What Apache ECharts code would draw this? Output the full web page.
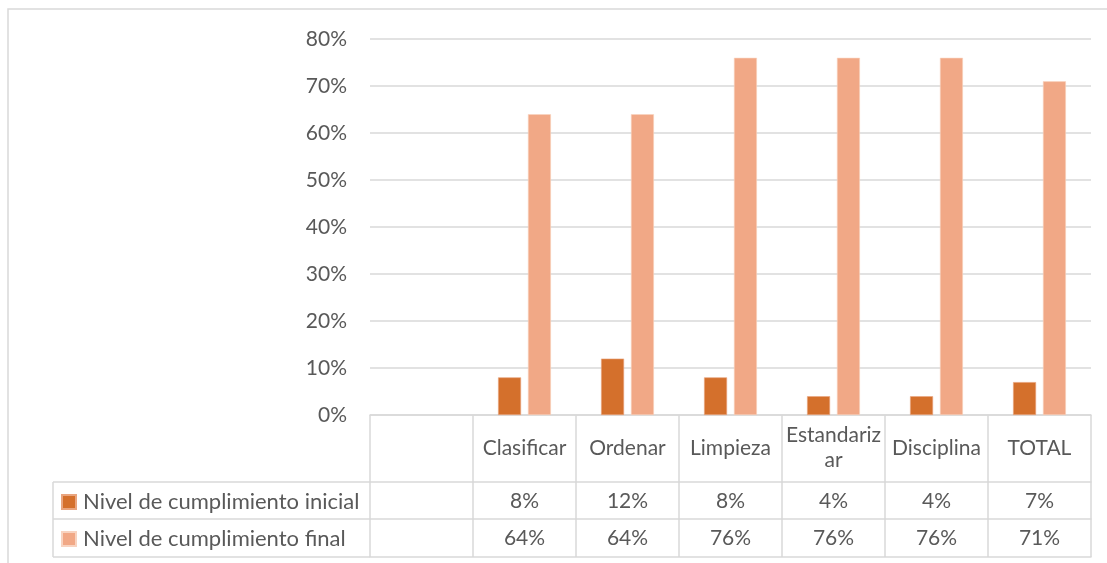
<!DOCTYPE html>
<html>
<head>
<meta charset="utf-8">
<script src="https://cdn.jsdelivr.net/npm/echarts@6/dist/echarts.min.js"></script>
<style>
html,body{margin:0;padding:0;background:#fff;}
#c{width:1107px;height:563px;}
</style>
</head>
<body>
<div id="c"></div>
<script>
var categories = ['', 'Clasificar', 'Ordenar', 'Limpieza', 'Estandarizar', 'Disciplina', 'TOTAL'];
var seriesNames = ['Nivel de cumplimiento inicial', 'Nivel de cumplimiento final'];
var inicial = [null, 8, 12, 8, 4, 4, 7];
var final_ = [null, 64, 64, 76, 76, 76, 71];
var yTicks = [0, 10, 20, 30, 40, 50, 60, 70, 80];

var FONT = 'Lato';
var TXT = '#595959';
var LINE = '#D9D9D9';
var FS = 21;

function pct(v){ return (v === null || v === undefined) ? '' : v + '%'; }

var chart = echarts.init(document.getElementById('c'), null, {renderer: 'canvas'});

function rowAxis(offset, values, showLabel){
  return {
    type: 'category', data: categories, position: 'bottom', offset: offset,
    gridIndex: 0,
    axisLine: {show: true, lineStyle: {color: LINE, width: 1.5}},
    axisTick: {show: false},
    axisLabel: {
      show: showLabel, interval: 0, margin: 19, verticalAlign: 'middle',
      color: TXT, fontFamily: FONT, fontSize: FS,
      formatter: function(val, idx){ return values ? pct(values[idx]) : ''; }
    },
    splitLine: {show: false}
  };
}

var option = {
  animation: false,
  textStyle: {fontFamily: FONT},
  grid: {left: 370, right: 16, top: 39, bottom: 148, containLabel: false},
  legend: {
    orient: 'vertical', left: 56, top: 485,
    itemWidth: 14, itemHeight: 14, itemGap: 13, icon: 'rect',
    selectedMode: false,
    textStyle: {color: TXT, fontFamily: FONT, fontSize: 22, lineHeight: 24, padding: [0,0,0,2]},
    data: seriesNames
  },
  xAxis: [
    {
      type: 'category', data: categories, position: 'bottom',
      axisLine: {show: true, lineStyle: {color: LINE, width: 1.5}},
      axisTick: {show: true, length: 142, interval: 0, lineStyle: {color: LINE, width: 1.5}},
      axisLabel: {
        interval: 0, margin: 33, verticalAlign: 'middle',
        color: TXT, fontFamily: FONT, fontSize: FS, lineHeight: 25,
        width: 100, overflow: 'breakAll'
      }
    },
    rowAxis(67, inicial, true),
    rowAxis(104, final_, true),
    rowAxis(142, null, false)
  ],
  yAxis: {
    type: 'value', min: 0, max: 80, interval: 10,
    axisLine: {show: false}, axisTick: {show: false},
    axisLabel: {color: TXT, fontFamily: FONT, fontSize: FS, margin: 23, formatter: '{value}%'},
    splitLine: {lineStyle: {color: LINE, width: 1.5}}
  },
  series: [
    {
      name: seriesNames[0], type: 'bar', data: inicial, xAxisIndex: 0,
      barWidth: 23, barGap: '30%',
      itemStyle: {color: '#D4702C', borderColor: '#E9A57F', borderWidth: 0.6}
    },
    {
      name: seriesNames[1], type: 'bar', data: final_, xAxisIndex: 0,
      barWidth: 23,
      itemStyle: {color: '#F1A886', borderColor: '#F8D3C0', borderWidth: 0.6}
    }
  ],
  graphic: [
    {type: 'rect', silent: true, shape: {x: 8, y: 9, width: 1200, height: 700},
     style: {fill: null, stroke: LINE, lineWidth: 1.5}},
    {type: 'line', silent: true, shape: {x1: 53, y1: 482, x2: 370, y2: 482}, style: {stroke: LINE, lineWidth: 1.5}},
    {type: 'line', silent: true, shape: {x1: 53, y1: 519, x2: 370, y2: 519}, style: {stroke: LINE, lineWidth: 1.5}},
    {type: 'line', silent: true, shape: {x1: 53, y1: 557, x2: 370, y2: 557}, style: {stroke: LINE, lineWidth: 1.5}},
    {type: 'line', silent: true, shape: {x1: 53, y1: 482, x2: 53, y2: 557}, style: {stroke: LINE, lineWidth: 1.5}}
  ]
};
chart.setOption(option);
</script>
</body>
</html>
